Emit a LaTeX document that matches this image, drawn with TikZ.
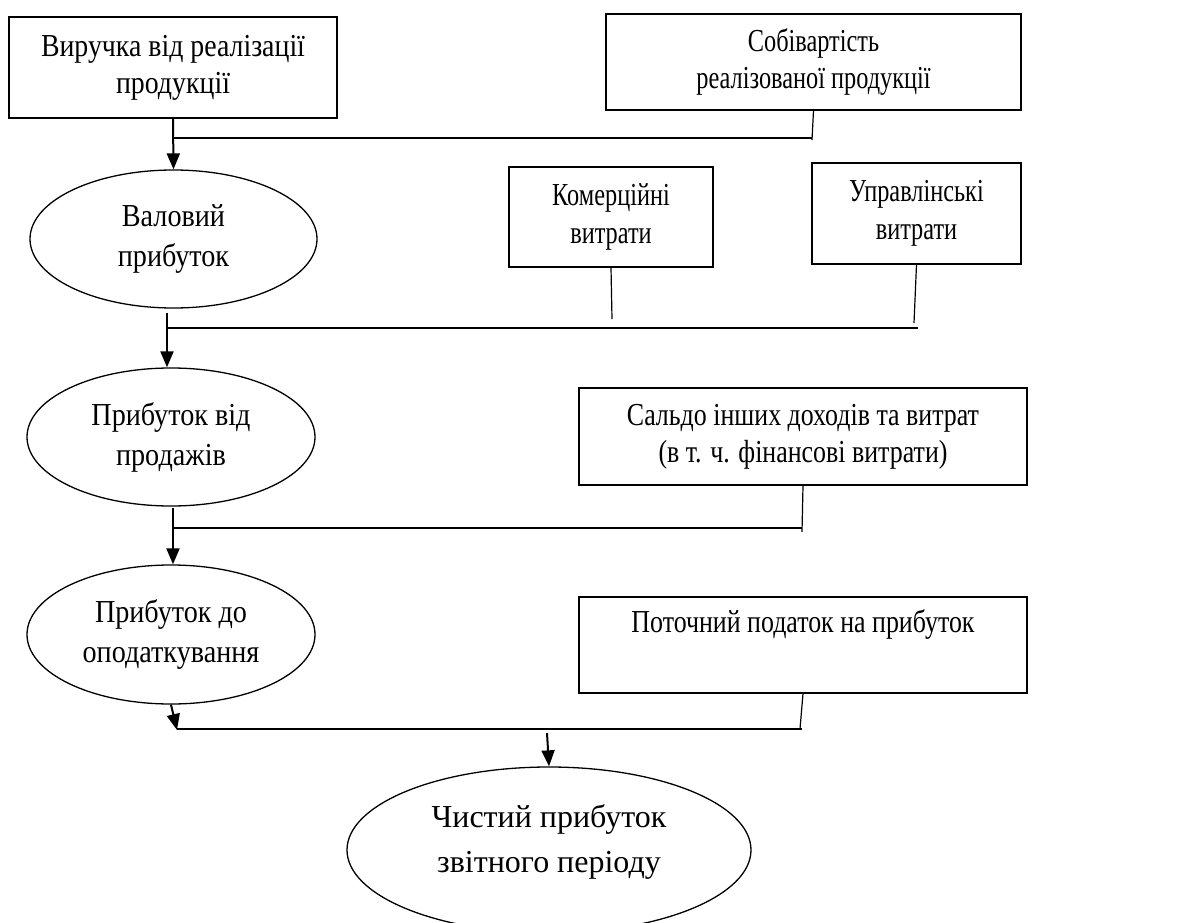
\documentclass[tikz,border=0pt]{standalone}
\usepackage{fontspec}
\setmainfont{Liberation Serif}
\newfontfamily\fnA[FakeStretch=0.87]{Liberation Serif}
\newfontfamily\fnB[FakeStretch=0.76]{Liberation Serif}
\newfontfamily\fnC[FakeStretch=0.81]{Liberation Serif}
\newfontfamily\fnD[FakeStretch=0.88]{Liberation Serif}
\usetikzlibrary{shapes.geometric,arrows.meta}
\begin{document}
\begin{tikzpicture}[x=1pt,y=-1pt,
  box/.style={align=center,draw,line width=1.3pt,rectangle,inner sep=0pt},
  oval/.style={align=center,draw,line width=1.3pt,ellipse,inner sep=0pt},
  link/.style={line width=1.6pt},
  feed/.style={line width=1.2pt},
  flow/.style={line width=2pt,-{Triangle[length=16pt,width=13pt]}}]
\useasboundingbox (0,0) rectangle (1200,923);
% boxes
\node[box,font=\fnA\fontsize{32}{37}\selectfont,minimum width=328pt,minimum height=101pt] (rev) at (173,67.5) {Виручка від реалізації\\продукції};
\node[box,font=\fnB\fontsize{32}{37}\selectfont,minimum width=415pt,minimum height=96pt] (cost) at (813.5,62) {Собівартість\\реалізованої продукції};
\node[box,font=\fnB\fontsize{32}{38}\selectfont,minimum width=204pt,minimum height=100pt] (comm) at (611,217) {Комерційні\\витрати};
\node[box,font=\fnB\fontsize{32}{38}\selectfont,minimum width=209pt,minimum height=101pt] (adm) at (916.5,213.5) {Управлінські\\витрати};
\node[box,font=\fnC\fontsize{32}{37}\selectfont,minimum width=448pt,minimum height=97pt] (saldo) at (803,436.5) {Сальдо інших доходів та витрат\\(в т. ч. фінансові витрати)};
\node[box,font=\fnC\fontsize{32}{37}\selectfont,minimum width=448pt,minimum height=96pt] (tax) at (803,645) {Поточний податок на прибуток\\\strut};
% ellipses
\node[oval,font=\fnD\fontsize{32}{40}\selectfont,minimum width=287pt,minimum height=138pt] (gross) at (173.5,239) {Валовий\\прибуток};
\node[oval,font=\fnD\fontsize{32}{40}\selectfont,minimum width=288pt,minimum height=138pt] (sales) at (171,437) {Прибуток від\\продажів};
\node[oval,font=\fnD\fontsize{32}{40}\selectfont,minimum width=288pt,minimum height=139pt] (ebt) at (171,634.5) {Прибуток до\\оподаткування};
\node[oval,font=\fontsize{32}{45}\selectfont,text depth=22pt,minimum width=404pt,minimum height=166pt] (net) at (549,850) {Чистий прибуток\\звітного періоду};
% junction coordinates
\coordinate (j1) at (173,138);
\coordinate (k1) at (812,140);
\coordinate (e1) at (812,138);
\coordinate (a2) at (167,313);
\coordinate (j2) at (167,328);
\coordinate (e2) at (918,328);
\coordinate (k2) at (612,319);
\coordinate (k3) at (914,323);
\coordinate (a3) at (173,508);
\coordinate (j3) at (173,528);
\coordinate (e3) at (802,528);
\coordinate (k4) at (802,532);
\coordinate (j4) at (177,730);
\coordinate (e4) at (802,729);
\coordinate (k5) at (800,729);
\coordinate (a5) at (547,733);
% connectors
\draw[flow] (rev.south) -- (gross.north);
\draw[link] (j1) -- (e1);
\draw[feed] (cost.south) -- (k1);
\draw[flow] (a2) -- (a2 |- sales.north);
\draw[link] (j2) -- (e2);
\draw[feed] (comm.south) -- (k2);
\draw[feed] (adm.south) -- (k3);
\draw[flow] (a3) -- (a3 |- ebt.north);
\draw[link] (j3) -- (e3);
\draw[feed] (saldo.south) -- (k4);
\draw[flow] (ebt.south) -- (j4);
\draw[link] (j4 |- e4) -- (e4);
\draw[feed] (tax.south) -- (k5);
\draw[flow] (a5) -- (net.north);
\end{tikzpicture}
\end{document}
